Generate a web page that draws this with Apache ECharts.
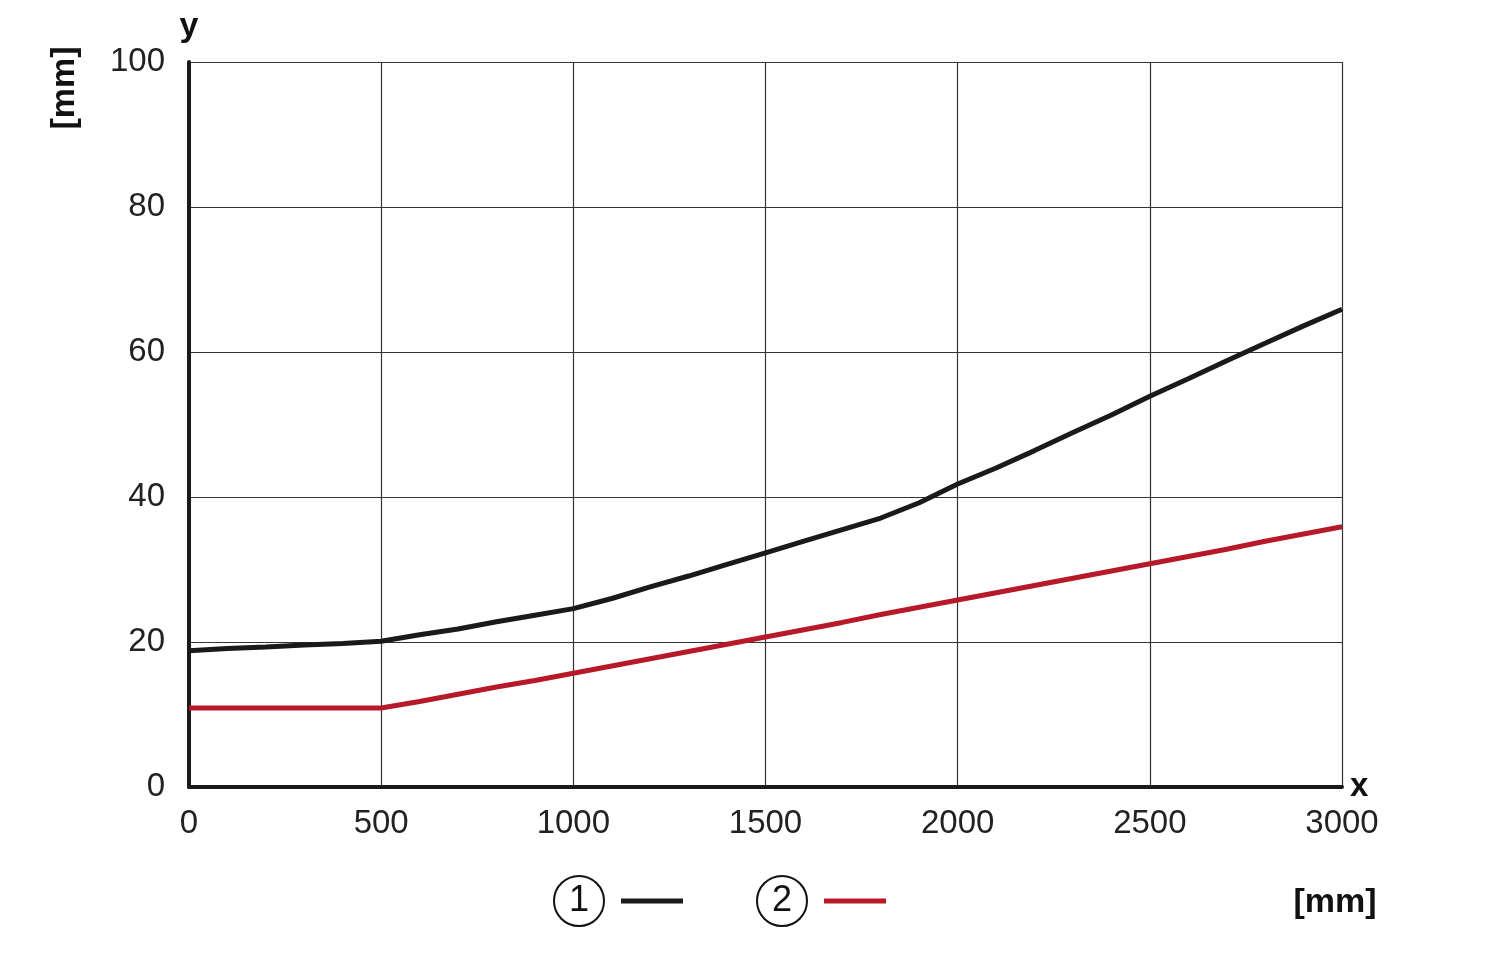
<!DOCTYPE html>
<html>
<head>
<meta charset="utf-8">
<script src="https://cdn.jsdelivr.net/npm/echarts@6/dist/echarts.min.js"></script>
<style>html,body{margin:0;padding:0;background:#fff}#c{width:1500px;height:954px}</style>
</head>
<body>
<div id="c"></div>
<script>
const xValues = [0,100,200,300,400,500,600,700,800,900,1000,1100,1200,1300,1400,1500,1600,1700,1800,1900,2000,2100,2200,2300,2400,2500,2600,2700,2800,2900,3000];
const series1 = [18.8,19.1,19.3,19.6,19.8,20.1,21.0,21.8,22.8,23.7,24.6,26.0,27.6,29.1,30.7,32.3,33.9,35.5,37.1,39.2,41.8,44.0,46.4,48.9,51.3,53.9,56.3,58.8,61.2,63.6,65.9];
const series2 = [10.9,10.9,10.9,10.9,10.9,10.9,11.8,12.8,13.8,14.7,15.7,16.7,17.7,18.7,19.7,20.7,21.7,22.7,23.8,24.8,25.8,26.8,27.8,28.8,29.8,30.8,31.8,32.8,33.9,34.9,35.9];
const seriesNames = ['1','2'];
const axisUnit = '[mm]';

const FONT = '"Liberation Sans", Arial, sans-serif';
const chart = echarts.init(document.getElementById('c'), null, {renderer:'canvas'});
const pairs = (ys) => xValues.map((x,i)=>[x, ys[i]]);

chart.setOption({
  animation:false,
  backgroundColor:'#fff',
  grid:{left:189, right:158, top:62, bottom:167, containLabel:false},
  xAxis:{
    type:'value', min:0, max:3000, interval:500,
    name:'x', nameLocation:'end', nameGap:8,
    nameTextStyle:{fontFamily:FONT, fontSize:33, fontWeight:'bold', color:'#111', verticalAlign:'middle', align:'left', padding:[6,0,0,0]},
    axisLine:{show:true, onZero:false, lineStyle:{color:'#1a1a1a', width:4}},
    axisTick:{show:false},
    axisLabel:{fontFamily:FONT, fontSize:33, color:'#222', margin:20, formatter:(v)=>String(v)},
    splitLine:{show:true, lineStyle:{color:'#333', width:1.2}}
  },
  yAxis:{
    type:'value', min:0, max:100, interval:20,
    name:'y', nameLocation:'end', nameGap:18,
    nameTextStyle:{fontFamily:FONT, fontSize:34, fontWeight:'bold', color:'#111', align:'center'},
    axisLine:{show:true, onZero:false, lineStyle:{color:'#1a1a1a', width:4}},
    axisTick:{show:false},
    axisLabel:{fontFamily:FONT, fontSize:33, color:'#222', margin:24},
    splitLine:{show:true, lineStyle:{color:'#333', width:1.2}}
  },
  legend:{
    left:548, top:870, align:'right', icon:'rect', itemWidth:62, itemHeight:5, itemGap:73,
    selectedMode:false,
    formatter:'{c|{name}}{s|}',
    textStyle:{
      fontFamily:FONT,
      rich:{
        c:{width:50, height:50, lineHeight:52, borderRadius:27, borderColor:'#111', borderWidth:2, align:'center', fontSize:36, color:'#111', fontFamily:FONT},
        s:{width:12}
      }
    },
    data:seriesNames
  },
  series:[
    {name:seriesNames[0], type:'line', data:pairs(series1), showSymbol:false, symbol:'none',
     lineStyle:{color:'#1a1a1a', width:5}, itemStyle:{color:'#1a1a1a'}, z:3},
    {name:seriesNames[1], type:'line', data:pairs(series2), showSymbol:false, symbol:'none',
     lineStyle:{color:'#b81928', width:5}, itemStyle:{color:'#b81928'}, z:3}
  ],
  graphic:[
    {type:'text', x:65, y:88, rotation:Math.PI/2,
     style:{text:axisUnit, font:'bold 34px '+FONT, fill:'#111', align:'center', verticalAlign:'middle'}},
    {type:'text', x:1335, y:903,
     style:{text:axisUnit, font:'bold 34px '+FONT, fill:'#111', align:'center', verticalAlign:'middle'}}
  ]
});
</script>
</body>
</html>
